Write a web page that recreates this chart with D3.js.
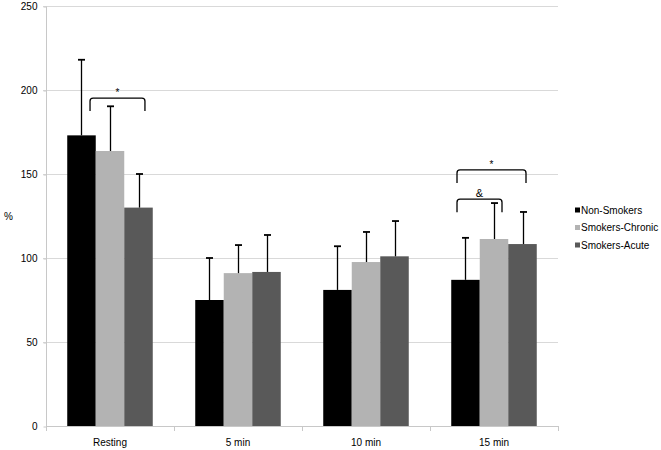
<!DOCTYPE html>
<html><head><meta charset="utf-8">
<script src="https://cdn.jsdelivr.net/npm/d3@7"></script>
<style>body{margin:0;background:#fff}svg text{font-family:"Liberation Sans",Arial,sans-serif}</style>
</head><body><svg id="c" width="661" height="450"></svg>
<script>
const categories = ["Resting", "5 min", "10 min", "15 min"];
const seriesNames = ["Non-Smokers", "Smokers-Chronic", "Smokers-Acute"];
const nonSmokers = [173, 75, 81, 87];
const smokersChronic = [163.7, 91, 97.6, 111.3];
const smokersAcute = [130, 91.7, 101, 108.3];
const errNonSmokers = [45, 25, 26, 25];
const errSmokersChronic = [26.6, 16.7, 17.9, 21.4];
const errSmokersAcute = [20, 22, 21, 19.1];
const yTicks = [0, 50, 100, 150, 200, 250];
const colors = ["#000000", "#b3b3b3", "#595959"];
// significance brackets: [category, start (fraction of band), end (fraction of band), level (value), label]
const brackets = [
  ["Resting", 0.344, 0.773, 195.2, "*"],
  ["15 min", 0.211, 0.75, 152.4, "*"],
  ["15 min", 0.211, 0.5625, 135, "&"]
];

const values = [nonSmokers, smokersChronic, smokersAcute];
const errs = [errNonSmokers, errSmokersChronic, errSmokersAcute];
const svg = d3.select("#c");
const m = {l: 46, r: 558, t: 6, b: 426};
const x = d3.scaleBand().domain(categories).range([m.l, m.r]).paddingInner(0).paddingOuter(0);
const xs = d3.scaleBand().domain(d3.range(3)).range([0, x.bandwidth()]).paddingOuter(0.745).paddingInner(0);
const y = d3.scaleLinear().domain([0, 250]).range([m.b, m.t]);
const FS = 10;

// gridlines
svg.append("g").selectAll("line").data(yTicks.filter(d => d > 0)).join("line")
  .attr("x1", m.l - 3).attr("x2", m.r).attr("y1", d => y(d) + 0.5).attr("y2", d => y(d) + 0.5)
  .attr("stroke", "#d9d9d9");

// y axis
const ya = svg.append("g").attr("transform", `translate(${m.l + 0.5},0.5)`)
  .call(d3.axisLeft(y).tickValues(yTicks).tickSize(3).tickPadding(6));
ya.select(".domain").attr("stroke", "#c8c8c8").attr("d", `M0,${m.t}V${m.b}`);
ya.selectAll(".tick line").attr("stroke", "#c8c8c8");
ya.selectAll("text").attr("font-size", FS).attr("fill", "#000").style("font-family", "Liberation Sans, Arial, sans-serif");

// x axis
const xa = svg.append("g").attr("transform", `translate(0,${m.b + 0.5})`)
  .call(d3.axisBottom(x).tickSize(0).tickPadding(12));
xa.select(".domain").attr("stroke", "#c8c8c8").attr("d", `M${m.l},0H${m.r}`);
xa.selectAll("text").attr("font-size", FS).attr("fill", "#000").style("font-family", "Liberation Sans, Arial, sans-serif");
svg.append("g").selectAll("line").data(d3.range(categories.length + 1)).join("line")
  .attr("x1", i => m.l + i * x.bandwidth() + 0.5).attr("x2", i => m.l + i * x.bandwidth() + 0.5)
  .attr("y1", m.b).attr("y2", m.b + 5).attr("stroke", "#c8c8c8");

// bars
seriesNames.forEach((s, si) => {
  svg.append("g").selectAll("rect").data(categories).join("rect")
    .attr("x", (c) => x(c) + xs(si)).attr("width", xs.bandwidth())
    .attr("y", (c, i) => y(values[si][i])).attr("height", (c, i) => y(0) - y(values[si][i]))
    .attr("fill", colors[si]);
});
// error bars
seriesNames.forEach((s, si) => {
  const g = svg.append("g").attr("stroke", "#000").attr("stroke-width", 1.3);
  categories.forEach((c, i) => {
    const cx = Math.round(x(c) + xs(si) + xs.bandwidth() / 2) + 0.5;
    const top = y(values[si][i] + errs[si][i]);
    g.append("line").attr("x1", cx).attr("x2", cx).attr("y1", y(values[si][i])).attr("y2", top);
    g.append("line").attr("x1", cx - 3.5).attr("x2", cx + 3.5).attr("y1", top).attr("y2", top).attr("stroke-width", 1.8);
  });
});

// brackets
brackets.forEach(([c, f1, f2, lvl, lab]) => {
  const x1 = x(c) + f1 * x.bandwidth();
  const x2 = x(c) + f2 * x.bandwidth();
  const yt = y(lvl), yb = yt + 13, r = 3;
  svg.append("path")
    .attr("d", `M${x1},${yb}V${yt + r}Q${x1},${yt} ${x1 + r},${yt}H${x2 - r}Q${x2},${yt} ${x2},${yt + r}V${yb}`)
    .attr("fill", "none").attr("stroke", "#000").attr("stroke-width", 1.3);
  svg.append("text").attr("x", (x1 + x2) / 2).attr("y", yt - 2).attr("text-anchor", "middle")
    .attr("fill", "#000").attr("font-size", lab === "&" ? 11 : 10).text(lab);
});

// y title
svg.append("text").attr("x", 4).attr("y", 220).attr("font-size", FS).attr("fill", "#000").text("%");

// legend
const lg = svg.append("g").attr("transform", "translate(575,210)");
seriesNames.forEach((s, i) => {
  lg.append("rect").attr("x", 0).attr("y", i * 17.5 - 2.5).attr("width", 5).attr("height", 5).attr("fill", colors[i]);
  lg.append("text").attr("x", 6).attr("y", i * 17.5 + 3.5).attr("font-size", FS).attr("fill", "#000").text(s);
});
</script></body></html>
